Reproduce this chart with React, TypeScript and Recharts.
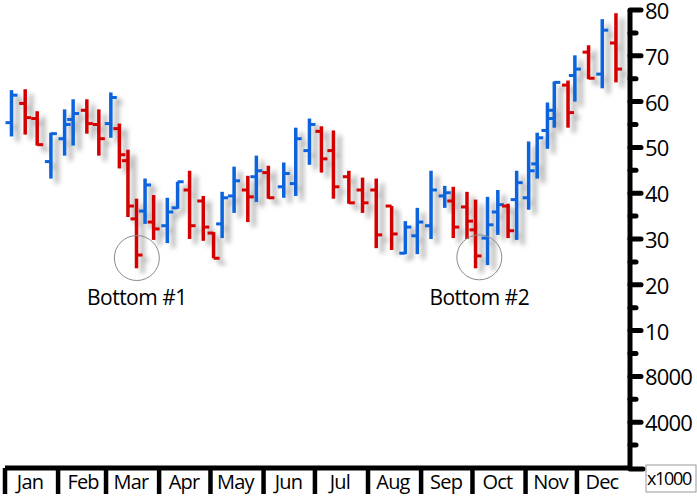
import React from 'react'
import { ComposedChart, Bar, XAxis, YAxis, ReferenceDot } from 'recharts'

// weekly OHLC bars, x = day of year, prices in thousands
const days = [4, 12, 19, 27, 35, 40, 48, 55, 62, 67, 72, 77, 82, 87, 95, 101, 108, 116, 122, 127, 134, 142, 147, 154, 163, 170, 178, 185, 192, 201, 209, 217, 226, 234, 241, 249, 257, 262, 270, 275, 282, 288, 294, 299, 306, 311, 317, 321, 329, 333, 341, 349, 357]
const opens = [55.4, 59.6, 56.3, 46.9, 51.9, 56.1, 58.1, 55.0, 55.2, 54.1, 47.1, 34.4, 36.1, 33.7, 32.9, 36.8, 40.7, 38.3, 31.3, 33.3, 39.4, 40.7, 43.6, 44.5, 41.4, 42.1, 49.3, 53.5, 49.3, 43.6, 40.7, 40.7, 37.2, 26.9, 30.7, 32.9, 39.4, 38.3, 37.0, 32.0, 30.2, 35.9, 37.2, 38.6, 39.0, 46.4, 53.7, 58.1, 63.6, 65.7, 70.8, 66.0, 72.8]
const highs = [62.5, 62.7, 57.9, 53.2, 58.3, 60.5, 60.5, 58.3, 62.0, 55.2, 49.5, 38.8, 43.2, 39.6, 39.0, 42.5, 44.9, 39.4, 31.5, 40.3, 45.8, 43.8, 48.2, 46.0, 46.7, 54.3, 56.3, 54.6, 53.7, 44.9, 43.4, 43.2, 37.2, 33.9, 36.8, 44.9, 41.6, 41.4, 40.3, 38.6, 39.2, 40.7, 37.7, 44.9, 51.3, 53.2, 59.8, 64.4, 64.6, 70.1, 72.3, 78.0, 79.3]
const lows = [52.4, 52.8, 50.4, 43.2, 48.2, 50.4, 53.0, 48.2, 52.1, 45.4, 34.8, 23.6, 33.3, 29.8, 29.1, 36.6, 30.0, 29.6, 25.8, 30.2, 35.7, 33.7, 38.1, 38.8, 39.0, 39.4, 46.2, 44.5, 38.8, 37.7, 35.7, 28.0, 27.6, 26.7, 26.7, 30.0, 36.8, 30.2, 30.0, 23.6, 24.3, 30.9, 30.2, 29.8, 36.4, 43.2, 49.7, 54.3, 54.3, 60.0, 64.9, 62.9, 64.2]
const closes = [61.4, 56.5, 50.6, 53.0, 55.0, 57.4, 55.2, 51.9, 60.9, 48.4, 37.2, 26.5, 41.8, 32.2, 35.9, 42.5, 32.9, 32.6, 25.8, 39.0, 42.7, 39.2, 44.9, 39.0, 44.3, 51.9, 55.0, 47.5, 41.4, 37.9, 37.9, 30.9, 31.1, 32.6, 33.7, 40.7, 40.1, 32.6, 33.9, 26.3, 33.1, 37.5, 31.8, 42.3, 44.9, 52.1, 56.3, 64.2, 57.6, 67.1, 65.1, 75.6, 67.1]

const monthStarts = [0, 31, 59, 90, 120, 151, 181, 212, 243, 273, 304, 334]
const monthNames = ['Jan', 'Feb', 'Mar', 'Apr', 'May', 'Jun', 'Jul', 'Aug', 'Sep', 'Oct', 'Nov', 'Dec']

const yTicks = [80, 75, 70, 65, 60, 55, 50, 45, 40, 35, 30, 25, 20, 15, 10, 5, 0, -5, -10, -15, -20]
const yTickText = ['80', '', '70', '', '60', '', '50', '', '40', '', '30', '', '20', '', '10', '', '8000', '', '4000', '', 'x1000']

const bottoms = [
  { day: 77, price: 25.85, textPrice: 17.3, text: 'Bottom #1' },
  { day: 277, price: 26.0, textPrice: 17.3, text: 'Bottom #2' },
]

const UP = '#0A64DC'
const DOWN = '#D40000'
const FONT = "'Open Sans', sans-serif"

const data = days.map((day, i) => ({
  day,
  range: [lows[i], highs[i]],
  open: opens[i],
  close: closes[i],
  high: highs[i],
  low: lows[i],
}))

function OhlcShape(props: any) {
  const { x, y, width, height, payload } = props
  const { open, close, high, low } = payload
  const cx = x + width / 2
  const k = (high - low) > 0 ? height / (high - low) : 0
  const yOpen = y + (high - open) * k
  const yClose = y + (high - close) * k
  const color = close >= open ? UP : DOWN
  return (
    <g filter="url(#barShadow)">
      <rect x={cx - 1.75} y={y} width={3.5} height={height} fill={color} />
      <rect x={cx - 6} y={yOpen - 1.5} width={6} height={3} fill={color} />
      <rect x={cx} y={yClose - 1.5} width={6} height={3} fill={color} />
    </g>
  )
}

function MonthTick(props: any) {
  const { x, y, index } = props
  return (
    <g>
      <line x1={x} x2={x} y1={y} y2={y + 26} stroke="#000" strokeWidth={4.5} />
      <text x={x + 25} y={y + 21} textAnchor="middle"
        fontFamily={FONT} fontSize={20} letterSpacing={-0.8} fill="#000">
        {monthNames[index]}
      </text>
    </g>
  )
}

function PriceTick(props: any) {
  const { x, y, payload, index } = props
  const v = payload.value
  const major = v % 10 === 0
  const label = yTickText[index]
  if (label === 'x1000') {
    return (
      <g>
        <line x1={x} x2={x + 13} y1={y + 1} y2={y + 1} stroke="#000" strokeWidth={5} strokeLinecap="round" />
        <rect x={x + 16} y={y - 3} width={50} height={27} fill="none" stroke="#999" strokeWidth={1} />
        <text x={x + 17} y={y + 17} fontFamily={FONT} fontSize={18}
          letterSpacing={-1.3} fill="#000">{label}</text>
      </g>
    )
  }
  return (
    <g>
      <line x1={x} x2={x + (major ? 11 : 6)} y1={y} y2={y} stroke="#000" strokeWidth={5} strokeLinecap="round" />
      {label && (
        <text x={x + 15} y={y} dominantBaseline="central" fontFamily={FONT} fontSize={22}
          letterSpacing={-0.8} fill="#000">{label}</text>
      )}
    </g>
  )
}

function BottomLabel(props: any) {
  const { cx, cy, text } = props
  return (
    <text x={cx} y={cy} textAnchor="middle" dominantBaseline="central"
      fontFamily={FONT} fontSize={21} letterSpacing={-0.5} fill="#000">{text}</text>
  )
}

export default function App() {
  return (
    <div style={{ position: 'absolute', left: 0, top: 0, width: 697, height: 496, background: '#fff' }}>
      <ComposedChart width={697} height={496} data={data}
        margin={{ top: 10, right: 0, bottom: 0, left: 5 }}>
        <defs>
          <filter id="barShadow" x="-100%" y="-20%" width="400%" height="150%">
            <feDropShadow dx={6} dy={5} stdDeviation={2.5} floodColor="#000" floodOpacity={0.35} />
          </filter>
        </defs>
        <XAxis
          dataKey="day"
          type="number"
          domain={[0, 365]}
          ticks={monthStarts}
          interval={0}
          tick={<MonthTick />}
          tickLine={false}
          tickSize={0}
          tickMargin={0}
          axisLine={{ stroke: '#000', strokeWidth: 5 }}
          height={28}
          allowDataOverflow
        />
        <YAxis
          orientation="right"
          type="number"
          domain={[-20, 80]}
          ticks={yTicks}
          interval={0}
          tick={<PriceTick />}
          tickLine={false}
          tickSize={0}
          tickMargin={0}
          axisLine={{ stroke: '#000', strokeWidth: 5 }}
          width={67}
          allowDataOverflow
        />
        <Bar dataKey="range" barSize={14} shape={<OhlcShape />} isAnimationActive={false} />
        {bottoms.map(b => (
          <ReferenceDot key={b.text + 'c'} x={b.day} y={b.price} r={22.5}
            fill="none" stroke="#8a8a8a" strokeWidth={1} ifOverflow="visible" />
        ))}
        {bottoms.map(b => (
          <ReferenceDot key={b.text} x={b.day} y={b.textPrice} r={0} ifOverflow="visible"
            shape={(p: any) => <BottomLabel {...p} text={b.text} />} />
        ))}
      </ComposedChart>
    </div>
  )
}
